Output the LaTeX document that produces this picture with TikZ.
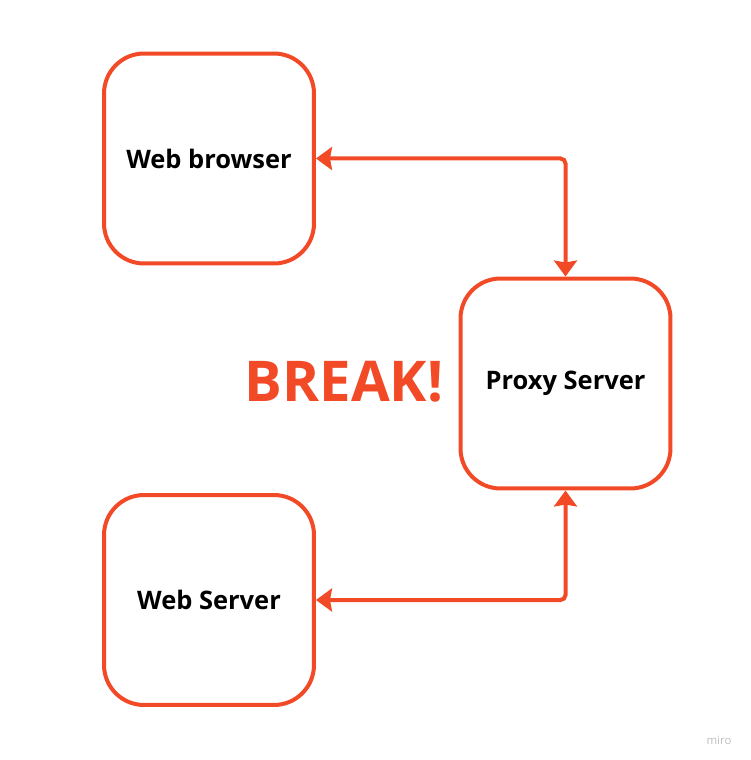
\documentclass[tikz,border=0pt]{standalone}
\usepackage{fontspec}
\setmainfont{Open Sans}
\usetikzlibrary{arrows.meta}
\definecolor{miroorange}{HTML}{F24A27}
\tikzset{
    box/.style={draw=miroorange, line width=0.08cm, rounded corners=0.8cm,
        minimum width=4.2cm, minimum height=4.2cm, font=\bfseries\fontsize{14.5}{17}\selectfont},
    link/.style={draw=miroorange, line width=0.08cm, rounded corners=0.1cm,
        {Stealth[length=0.32cm, width=0.46cm, inset=0.04cm]}-{Stealth[length=0.32cm, width=0.46cm, inset=0.04cm]}}
}
\begin{document}
\begin{tikzpicture}[x=0.02cm, y=-0.02cm]
    \useasboundingbox[fill=white] (0,0) rectangle (750,760);
    \node[box] (browser) at (209,158.5) {Web browser};
    \node[box] (proxy) at (565.5,383.5) {Proxy Server};
    \node[box] (server) at (209,600) {Web Server};
    \node[text=miroorange, font=\bfseries\fontsize{32}{36}\selectfont] (break) at (344,382) {BREAK!};
    \draw[link] (browser.east) -| (proxy.north);
    \draw[link] (server.east) -| (proxy.south);
    \node[text=black!25, font=\fontsize{6.5}{8}\selectfont] (miro) at (719,740) {miro};
\end{tikzpicture}
\end{document}
